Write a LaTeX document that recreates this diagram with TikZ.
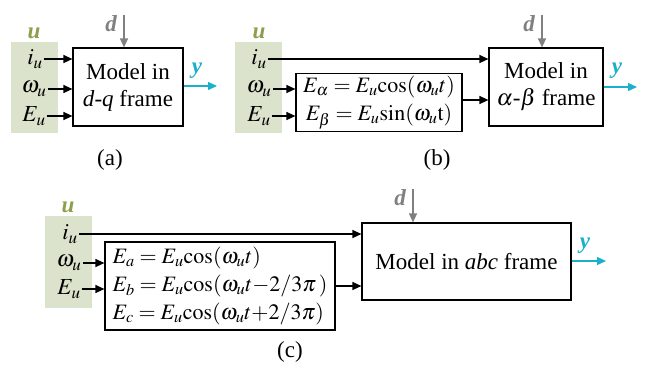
\documentclass[tikz,border=0pt]{standalone}
\usepackage{mathptmx}
\usepackage[no-math]{fontspec}
\setmainfont{Liberation Serif}
\usepackage{tikz}
\usetikzlibrary{arrows.meta}

\definecolor{ubg}{RGB}{220,227,205}
\definecolor{ucol}{RGB}{138,160,74}
\definecolor{ycol}{RGB}{26,176,204}
\definecolor{dcol}{RGB}{128,128,128}

\tikzset{
  blk/.style={draw,line width=1.2pt,align=center,inner sep=2pt},
  eqblk/.style={blk,font=\fontsize{22}{28}\selectfont,inner sep=3pt},
  inlab/.style={inner sep=1pt},
  sig/.style={-{Triangle[length=9pt,width=8pt]},line width=1.3pt},
  dsig/.style={dcol,-{Triangle[length=9pt,width=8pt]},line width=1.3pt},
  ysig/.style={ycol,-{Triangle[length=9pt,width=8pt]},line width=1.3pt},
  ulab/.style={ucol,font=\fontsize{23}{27}\selectfont\bfseries\itshape},
  dlab/.style={dcol,font=\fontsize{23}{27}\selectfont\bfseries\itshape},
  ylab/.style={ycol,font=\fontsize{23}{27}\selectfont\bfseries\itshape}
}

\begin{document}
\begin{tikzpicture}[x=1pt,y=-1pt,font=\fontsize{23}{27}\selectfont]
    \useasboundingbox (0,0) rectangle (652,370);
    % (a) d-q frame
    \fill[ubg] (11,42) rectangle (58,133);
    \node[ulab] (uA) at (34,33) {u};
    \node[inlab] (iuA) at (35,59) {$i_u$};
    \node[inlab] (wuA) at (34,89) {$\omega_u$};
    \node[inlab] (EuA) at (34,116) {$E_u$};
    \node[blk,minimum width=110,minimum height=78] (mA) at (128,87)
      {Model in\\\textit{d}-\textit{q} frame};
    \draw[sig] (iuA.east) -- (iuA.east -| mA.west);
    \draw[sig] (wuA.east) -- (wuA.east -| mA.west);
    \draw[sig] (EuA.east) -- (EuA.east -| mA.west);
    \coordinate (dA) at (124,15);
    \draw[dsig] (dA) -- (dA |- mA.north);
    \node[dlab] (dlA) at (111,24) {d};
    \coordinate (yA) at (217,86);
    \draw[ysig] (mA.east |- yA) -- (yA);
    \node[ylab] (ylA) at (197,71) {y};
    \node (capA) at (110,160) {(a)};
    % (b) alpha-beta frame
    \fill[ubg] (235,42) rectangle (282,133);
    \node[ulab] (uB) at (259,33) {u};
    \node[inlab] (iuB) at (259,59) {$i_u$};
    \node[inlab] (wuB) at (259,89) {$\omega_u$};
    \node[inlab] (EuB) at (259,116) {$E_u$};
    \node[eqblk,minimum width=166,minimum height=55] (eqB) at (379,102.5)
      {$E_\alpha = E_u\mathrm{cos}(\omega_u t)$\\$E_\beta = E_u\mathrm{sin}(\omega_u\mathrm{t})$};
    \node[blk,minimum width=114,minimum height=78] (mB) at (546,87)
      {Model in\\$\alpha$-$\beta$ frame};
    \draw[sig] (iuB.east) -- (iuB.east -| mB.west);
    \draw[sig] (wuB.east) -- (wuB.east -| eqB.west);
    \draw[sig] (EuB.east) -- (EuB.east -| eqB.west);
    \coordinate (eB) at (476,100);
    \draw[sig] (eqB.east |- eB) -- (mB.west |- eB);
    \coordinate (dB) at (542,15);
    \draw[dsig] (dB) -- (dB |- mB.north);
    \node[dlab] (dlB) at (529,24) {d};
    \coordinate (yB) at (637,87);
    \draw[ysig] (mB.east |- yB) -- (yB);
    \node[ylab] (ylB) at (617,71) {y};
    \node (capB) at (437,160) {(b)};
    % (c) abc frame
    \fill[ubg] (45,216) rectangle (92,308);
    \node[ulab] (uC) at (68,207) {u};
    \node[inlab] (iuC) at (70,234) {$i_u$};
    \node[inlab] (wuC) at (69,263) {$\omega_u$};
    \node[inlab] (EuC) at (69,289) {$E_u$};
    \node[eqblk,align=left,minimum width=230,minimum height=88] (eqC) at (220,286)
      {$E_a = E_u\mathrm{cos}(\omega_u t)$\\
       $E_b = E_u\mathrm{cos}(\omega_u t{-}2/3\pi\,)$\\
       $E_c = E_u\mathrm{cos}(\omega_u t{+}2/3\pi)$};
    \node[blk,minimum width=209,minimum height=77] (mC) at (466.5,261.5)
      {Model in \textit{abc} frame};
    \draw[sig] (iuC.east) -- (iuC.east -| mC.west);
    \draw[sig] (wuC.east) -- (wuC.east -| eqC.west);
    \draw[sig] (EuC.east) -- (EuC.east -| eqC.west);
    \coordinate (eC) at (345,286);
    \draw[sig] (eqC.east |- eC) -- (mC.west |- eC);
    \coordinate (dC) at (413,189);
    \draw[dsig] (dC) -- (dC |- mC.north);
    \node[dlab] (dlC) at (400,198) {d};
    \coordinate (yC) at (606,261);
    \draw[ysig] (mC.east |- yC) -- (yC);
    \node[ylab] (ylC) at (585,246) {y};
    \node (capC) at (290,352) {(c)};
  \end{tikzpicture}
\end{document}
